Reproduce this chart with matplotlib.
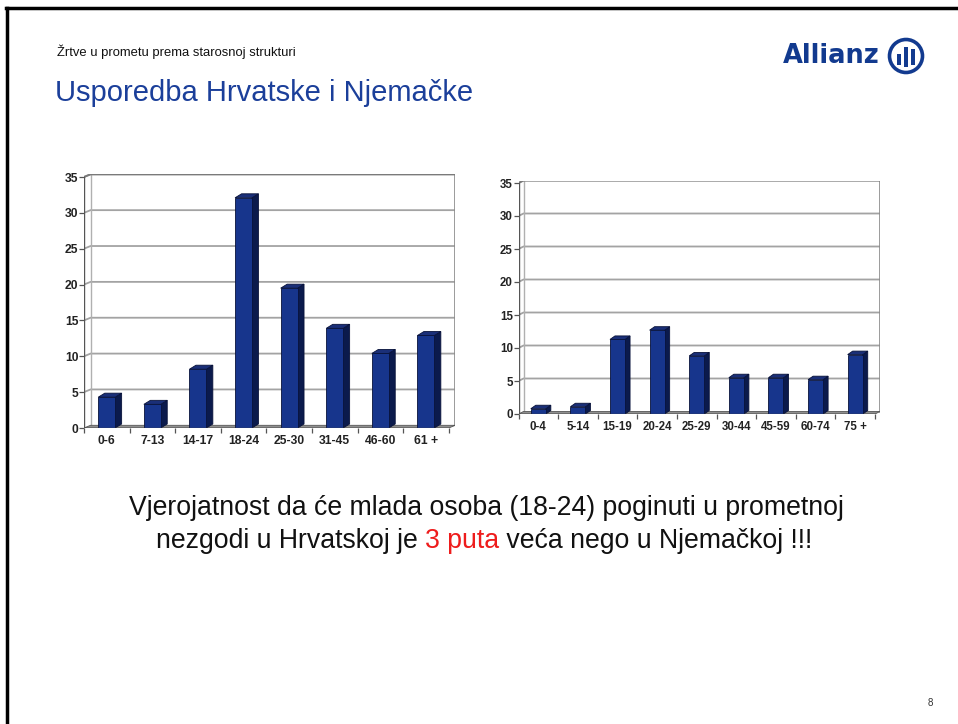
import matplotlib
matplotlib.use("Agg")
import matplotlib.pyplot as plt
from matplotlib.patches import Polygon, Circle, Rectangle
from matplotlib.lines import Line2D

# ---------------- data ----------------
hr_categories = ["0-6", "7-13", "14-17", "18-24", "25-30", "31-45", "46-60", "61 +"]
hr_values = [4.3, 3.3, 8.2, 32.1, 19.5, 13.9, 10.4, 12.9]

de_categories = ["0-4", "5-14", "15-19", "20-24", "25-29", "30-44", "45-59", "60-74", "75 +"]
de_values = [0.8, 1.1, 11.3, 12.7, 8.8, 5.5, 5.5, 5.2, 9.0]

y_ticks = [0, 5, 10, 15, 20, 25, 30, 35]

subtitle = "Žrtve u prometu prema starosnoj strukturi"
title = "Usporedba Hrvatske i Njemačke"
line1 = "Vjerojatnost da će mlada osoba (18-24) poginuti u prometnoj"
line2_parts = ["nezgodi u Hrvatskoj je ", "3 puta", " veća nego u Njemačkoj !!!"]

# ---------------- figure ----------------
W, H = 958, 724
DPI = 100
fig = plt.figure(figsize=(W / DPI, H / DPI), dpi=DPI)
fig.patch.set_facecolor("white")

FONT = ["Liberation Sans", "DejaVu Sans"]
FRONT = "#17358c"
SIDE = "#0b1a4c"
TOP = "#1a2f78"
EDGE = "#08123a"


def px_axes(x0, y_bottom, x1, y_top):
    return fig.add_axes([x0 / W, 1 - y_bottom / H, (x1 - x0) / W, (y_bottom - y_top) / H])


def draw_chart(x0, x_front_right, y0_px, y35_px, wall_dx_px, wall_dy_px, bar_dx_px, bar_dy_px,
               cats, vals, bar_w, fs):
    n = len(cats)
    ux = (x_front_right - x0) / n          # px per category
    uy = (y0_px - y35_px) / 35.0            # px per unit
    ax = px_axes(x0, y0_px, x_front_right + wall_dx_px, y35_px - wall_dy_px)
    dx = wall_dx_px / ux
    dy = wall_dy_px / uy
    bdx = bar_dx_px / ux
    bdy = bar_dy_px / uy
    ax.set_xlim(0, n + dx)
    ax.set_ylim(0, 35 + dy)
    for s in ax.spines.values():
        s.set_visible(False)
    ax.patch.set_alpha(0)

    # back wall gridlines
    for t in y_ticks[1:]:
        ax.add_line(Line2D([0, dx, n + dx], [t, t + dy, t + dy], color="#a3a3a3", lw=1.3, zorder=1))
    # wall borders
    ax.add_line(Line2D([dx, dx], [dy, 35 + dy], color="#b0b0b0", lw=1.0, zorder=1))
    ax.add_line(Line2D([n + dx, n + dx], [dy, 35 + dy], color="#8a8a8a", lw=1.2, zorder=1))
    ax.add_line(Line2D([0, dx, n + dx], [35, 35 + dy, 35 + dy], color="#7a7a7a", lw=1.4, zorder=1))
    # floor
    ax.add_patch(Polygon([(0, 0), (n, 0), (n + dx, dy), (dx, dy)], closed=True,
                         facecolor="#8f8f8f", edgecolor="#555555", lw=0.6, zorder=2))
    # front y axis
    ax.add_line(Line2D([0, 0], [0, 35], color="#555555", lw=1.0, zorder=5))
    ax.add_line(Line2D([0, n], [0, 0], color="#444444", lw=1.0, zorder=5))

    # bars
    xs = [i + 0.5 for i in range(n)]
    bars = ax.bar(xs, vals, width=bar_w, color=FRONT, edgecolor=EDGE, linewidth=0.6, zorder=4)
    for b, v in zip(bars, vals):
        xa = b.get_x()
        xb = xa + b.get_width()
        ax.add_patch(Polygon([(xb, 0), (xb + bdx, bdy), (xb + bdx, v + bdy), (xb, v)], closed=True,
                             facecolor=SIDE, edgecolor=EDGE, lw=0.6, zorder=3))
        ax.add_patch(Polygon([(xa, v), (xb, v), (xb + bdx, v + bdy), (xa + bdx, v + bdy)], closed=True,
                             facecolor=TOP, edgecolor=EDGE, lw=0.6, zorder=3))

    # ticks
    ax.set_yticks(y_ticks)
    ax.set_yticklabels([str(t) for t in y_ticks], fontsize=fs, fontweight="bold",
                       family=FONT, color="#222222")
    ax.tick_params(axis="y", length=3.5, width=0.9, color="#555555", pad=0.5)
    ax.set_xticks(xs)
    ax.set_xticklabels(cats, fontsize=fs, fontweight="bold", family=FONT, color="#222222")
    ax.set_xticks(list(range(n + 1)), minor=True)
    ax.tick_params(axis="x", which="major", length=0, pad=5)
    ax.tick_params(axis="x", which="minor", length=3.5, width=0.9, color="#555555")
    return ax


draw_chart(83.9, 448.7, 428, 177, 6.7, 2.7, 6.5, 4.0, hr_categories, hr_values, 0.37, 8.7)
draw_chart(518.5, 875.0, 414, 183, 5.0, 2.5, 5.0, 3.5, de_categories, de_values, 0.38, 8.3)

# ---------------- slide text ----------------
fig.text(57 / W, 1 - 52 / H, subtitle, fontsize=9.4, family=FONT,
         color="#111111", va="center", ha="left")
fig.text(55 / W, 1 - 93 / H, title, fontsize=21, family=FONT, color="#1b3f9a", va="center", ha="left")

BODY = 19.2
fig.text(486 / W, 1 - 508 / H, line1, fontsize=BODY, family=FONT, color="#111111", va="center", ha="center")

# second line with red part
renderer = fig.canvas.get_renderer()
tmp = [fig.text(0, 0, p, fontsize=BODY, family=FONT) for p in line2_parts]
widths = [t.get_window_extent(renderer).width for t in tmp]
for t in tmp:
    t.remove()
total = sum(widths)
xcur = 484 - total / 2
colors = ["#111111", "#ee1c1c", "#111111"]
for p, w, c in zip(line2_parts, widths, colors):
    fig.text(xcur / W, 1 - 541 / H, p, fontsize=BODY, family=FONT, color=c, va="center", ha="left")
    xcur += w

fig.text(930 / W, 1 - 703 / H, "8", fontsize=7, family=FONT, color="#333333", va="center", ha="center")

# ---------------- logo ----------------
fig.text(831 / W, 1 - 56 / H, "Allianz", fontsize=18.5, family=["DejaVu Sans"], fontweight="bold",
         color="#123a8f", va="center", ha="center")
lax = fig.add_axes([886 / W, 1 - 76 / H, 40 / W, 40 / H])
lax.set_xlim(-20, 20)
lax.set_ylim(-20, 20)
lax.set_aspect("equal")
lax.axis("off")
lax.add_patch(Circle((0, 0), 16.5, facecolor="none", edgecolor="#123a8f", lw=2.6))
lax.add_patch(Rectangle((-9, -9), 4, 11, facecolor="#123a8f"))
lax.add_patch(Rectangle((-2, -11), 4, 20, facecolor="#123a8f"))
lax.add_patch(Rectangle((5, -9), 4, 16, facecolor="#123a8f"))

# ---------------- slide border ----------------
fig.add_artist(Line2D([7 / W, 7 / W], [0, 1 - 8 / H], color="black", lw=2.5))
fig.add_artist(Line2D([6 / W, 1], [1 - 8 / H, 1 - 8 / H], color="black", lw=2.5))

fig.savefig("out.png", dpi=DPI)
